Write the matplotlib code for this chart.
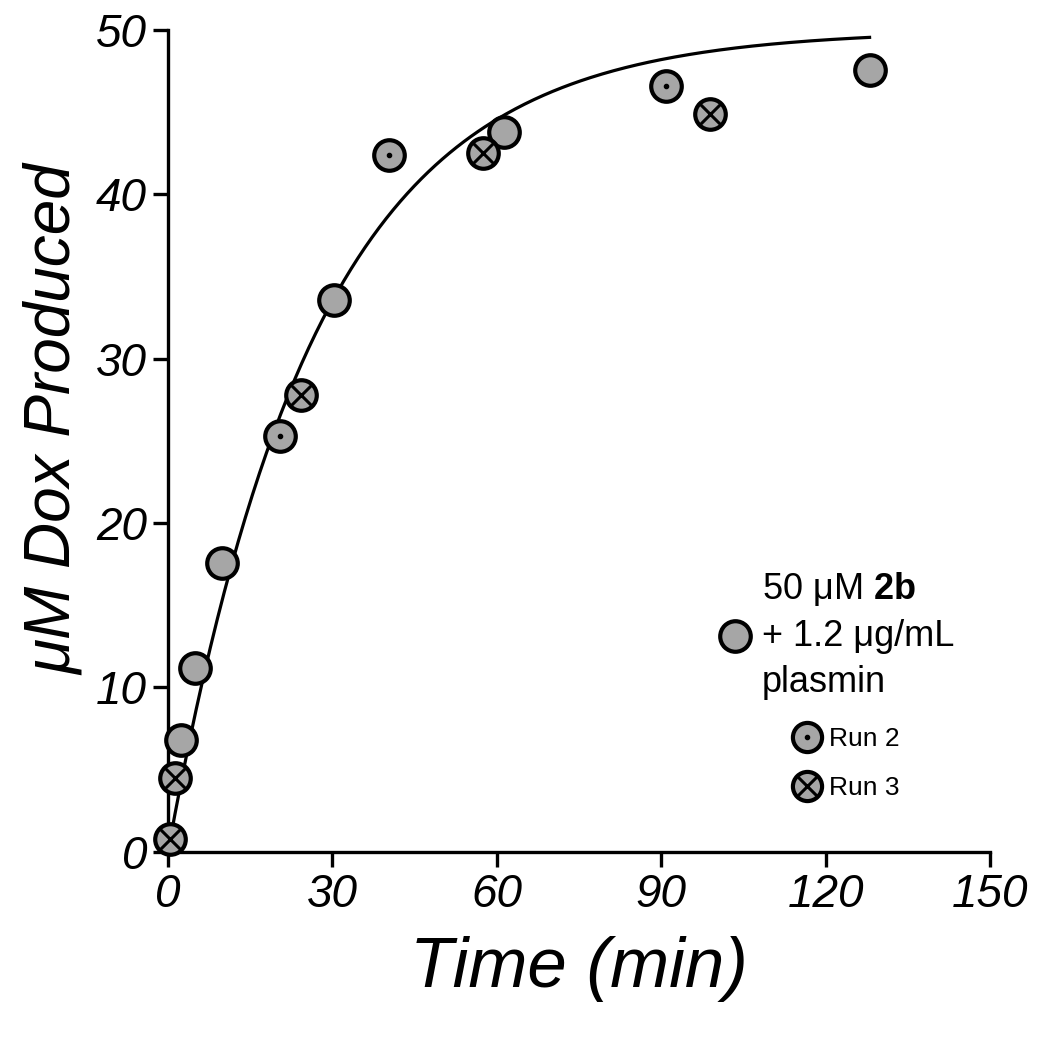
import numpy as np
import matplotlib
matplotlib.use("Agg")
import matplotlib.pyplot as plt
from matplotlib.lines import Line2D
from matplotlib.legend_handler import HandlerTuple

plt.rcParams['font.family'] = ['Liberation Sans', 'DejaVu Sans']
plt.rcParams['mathtext.fontset'] = 'custom'
plt.rcParams['mathtext.rm'] = 'Liberation Sans'
plt.rcParams['mathtext.bf'] = 'Liberation Sans:bold'

# data
run1_t = [2.4, 5.0, 9.9, 30.2, 61.3, 128.0]
run1_y = [6.8, 11.2, 17.6, 33.6, 43.8, 47.6]
run2_t = [20.5, 40.3, 90.8]
run2_y = [25.3, 42.4, 46.6]
run3_t = [0.3, 1.3, 24.3, 57.4, 98.9]
run3_y = [0.8, 4.5, 27.8, 42.5, 44.9]

# one-phase association fit
fit_ymax = 50.0
fit_k = 0.037
fit_tmax = 128.0

fill = '#a6a6a6'
ms = 22
mew = 3

fig = plt.figure(figsize=(10.5, 10.4), dpi=100)
ax = fig.add_axes([0.16, 0.181, 0.783, 0.79])

t_fit = np.linspace(0, fit_tmax, 300)
ax.plot(t_fit, fit_ymax * (1 - np.exp(-fit_k * t_fit)), color='k', lw=2.3, zorder=2)

circ = dict(marker='o', ls='none', ms=ms, mfc=fill, mec='k', mew=mew, clip_on=False, zorder=3)
ax.plot(run1_t, run1_y, **circ)
ax.plot(run2_t, run2_y, **circ)
ax.plot(run2_t, run2_y, marker='o', ls='none', ms=3, color='k', clip_on=False, zorder=4)
ax.plot(run3_t, run3_y, **circ)
ax.plot(run3_t, run3_y, marker='x', ls='none', ms=15, mew=2.2, color='k', clip_on=False, zorder=4)

ax.set_xlim(0, 150)
ax.set_ylim(0, 50)
ax.set_xticks(np.arange(0, 151, 30))
ax.set_yticks(np.arange(0, 51, 10))
for side in ['top', 'right']:
    ax.spines[side].set_visible(False)
for side in ['left', 'bottom']:
    ax.spines[side].set_linewidth(2.4)
ax.tick_params(direction='out', length=11, width=2.4, labelsize=33, pad=4)
for lab in ax.get_xticklabels() + ax.get_yticklabels():
    lab.set_fontstyle('italic')

ax.set_xlabel('Time (min)', fontsize=51, style='italic', labelpad=14)
ax.set_ylabel('μM Dox Produced', fontsize=46, style='italic')
ax.yaxis.set_label_coords(-0.102, 0.526)

h_main = Line2D([], [], **circ)
leg1 = ax.legend([h_main], ['50 μM $\\mathbf{2b}$\n+ 1.2 μg/mL\nplasmin'],
                 loc='upper left', bbox_to_anchor=(0.65, 0.36), frameon=False,
                 fontsize=26, handletextpad=0.25, handlelength=1.0, borderaxespad=0)
leg1.get_texts()[0].set_linespacing(1.4)
ax.add_artist(leg1)

h_r2 = (Line2D([], [], marker='o', ls='none', ms=21, mfc=fill, mec='k', mew=mew),
        Line2D([], [], marker='o', ls='none', ms=3, color='k'))
h_r3 = (Line2D([], [], marker='o', ls='none', ms=21, mfc=fill, mec='k', mew=mew),
        Line2D([], [], marker='x', ls='none', ms=14, mew=2.2, color='k'))
ax.legend([h_r2, h_r3], ['Run 2', 'Run 3'],
          handler_map={tuple: HandlerTuple(ndivide=1, pad=0)},
          loc='upper left', bbox_to_anchor=(0.745, 0.165), frameon=False,
          fontsize=19, handletextpad=0.25, handlelength=1.2, labelspacing=0.95,
          borderaxespad=0)

fig.savefig('out.png', dpi=100)
